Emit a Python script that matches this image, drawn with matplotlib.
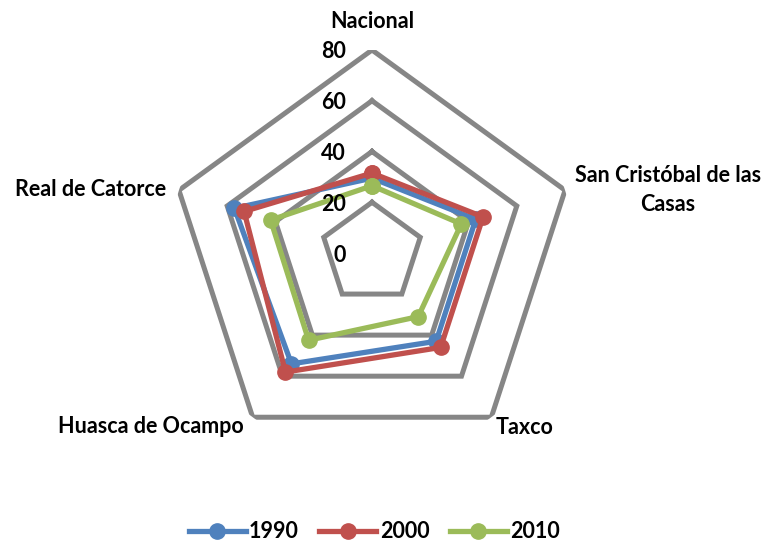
import numpy as np
import matplotlib
matplotlib.use("Agg")
import matplotlib.pyplot as plt

plt.rcParams['font.family'] = ['Lato', 'DejaVu Sans']

categories = ["Nacional", "San Cristóbal de las\nCasas", "Taxco", "Huasca de Ocampo", "Real de Catorce"]
series_names = ["1990", "2000", "2010"]
v1990 = [29.5, 43, 43, 54, 57]
v2000 = [31.5, 46, 46, 58, 53]
v2010 = [26.5, 37, 31, 42.5, 42]
grid_levels = [20, 40, 60, 80]
tick_labels = ["0", "20", "40", "60", "80"]
tick_values = [0, 20, 40, 60, 80]

colors = ["#4F81BD", "#C0504D", "#9BBB59"]
grid_color = "#868686"
FS = 15.5

fig = plt.figure(figsize=(7.67, 5.42), dpi=100)
W, H = 767, 542
cx, cy, R = 372, 253, 203
ax = fig.add_axes([(cx - R) / W, (H - cy - R) / H, 2 * R / W, 2 * R / H], projection='polar')
ax.set_theta_offset(np.pi / 2)
ax.set_theta_direction(-1)
ax.set_ylim(0, 80)
ax.grid(False)
ax.spines['polar'].set_visible(False)
ax.set_xticks([])
ax.set_yticks([])
ax.patch.set_alpha(0)

n = len(categories)
theta = np.arange(n) * 2 * np.pi / n
theta_c = np.append(theta, theta[0])

for lv in grid_levels:
    ax.plot(theta_c, [lv] * (n + 1), color=grid_color, lw=3.6, zorder=1, solid_joinstyle='miter')

for vals, col, name in zip([v1990, v2000, v2010], colors, series_names):
    vv = np.append(vals, vals[0])
    ax.plot(theta_c, vv, color=col, lw=3.8, marker='o', markersize=11, zorder=3, label=name,
            solid_joinstyle='round')

for v, t in zip(tick_values, tick_labels):
    ax.annotate(t, xy=(0, v), xytext=(-26, -2), textcoords='offset pixels',
                ha='right', va='center', fontsize=FS, fontweight='bold', annotation_clip=False)

offsets = [(0, 28, 'center'), (103, 0, 'center'), (33, -10, 'center'), (-9, -9, 'right'), (-13, 1, 'right')]
for th, lab, (dx, dy, ha) in zip(theta, categories, offsets):
    ax.annotate(lab, xy=(th, 80), xytext=(dx, dy), textcoords='offset pixels',
                ha=ha, va='center', fontsize=FS, fontweight='bold', annotation_clip=False,
                multialignment='center', linespacing=1.45)

leg = fig.legend(loc='center', bbox_to_anchor=(0.488, 1 - 532 / H), ncol=3, frameon=False,
                 handlelength=2.65, columnspacing=0.95, handletextpad=0.15,
                 prop={'weight': 'bold', 'size': FS})

fig.savefig("out.png", dpi=100)
